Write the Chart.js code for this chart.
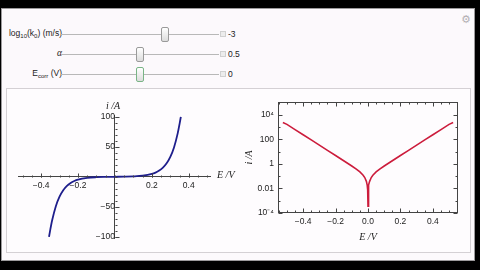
<!DOCTYPE html>
<html>
<head>
<meta charset="utf-8">
<script src="https://cdn.jsdelivr.net/npm/chart.js@4.4.0/dist/chart.umd.min.js"></script>
<style>
html, body { margin: 0; padding: 0; background: #000; width: 480px; height: 270px; overflow: hidden; font-family: "Liberation Sans", Arial, sans-serif; }
#panel { position: absolute; left: 1px; top: 8px; width: 472px; height: 251px; background: #fcf9fc; border: 1px solid #9c9a9c; }
#plots { position: absolute; left: 6px; top: 88px; width: 463px; height: 163px; background: #fefcfe; border: 1px solid #d4d0d4; }
.lbl { position: absolute; left: 0; width: 62px; text-align: right; font-size: 8.5px; color: #222; line-height: 10px; }
.lbl sub { font-size: 6px; vertical-align: -2px; line-height: 0; }
.val { position: absolute; left: 228px; font-size: 8.5px; color: #222; line-height: 10px; }
.plus { position: absolute; left: 220px; width: 4px; height: 4px; border: 1px solid #d0d0d0; background: #ececec; }
input[type=range] { -webkit-appearance: none; appearance: none; position: absolute; left: 61px; width: 158px; height: 17px; margin: 0; padding: 0; background: transparent; }
input[type=range]::-webkit-slider-runnable-track { height: 1px; background: #b8b8b8; }
input[type=range]::-webkit-slider-thumb { -webkit-appearance: none; box-sizing: border-box; width: 8px; height: 15px; margin-top: -7px; border: 1px solid #9a9a9a; border-radius: 2px; background: linear-gradient(#ffffff, #dcdcdc); }
#s3::-webkit-slider-thumb { border-color: #79b486; }
#gear { position: absolute; left: 461px; top: 13px; font-size: 11px; color: #b4b0b4; font-family: "DejaVu Sans"; }
.axt { position: absolute; font-family: "Liberation Serif", serif; font-style: italic; font-size: 10px; color: #222; line-height: 10px; white-space: nowrap; }
canvas { position: absolute; }
</style>
</head>
<body>
<div id="panel"></div>
<div id="gear">⚙</div>

<div class="lbl" style="top:28px">log<sub>10</sub>(k<sub>0</sub>) (m/s)</div>
<input id="s1" type="range" min="-9" max="0" step="0.1" value="-3" style="top:26px">
<div class="plus" style="top:31px"></div>
<div class="val" style="top:29px">-3</div>

<div class="lbl" style="top:48px"><span style="font-family:'Liberation Serif';font-style:italic;font-size:9.5px">α</span></div>
<input id="s2" type="range" min="0" max="1" step="0.01" value="0.5" style="top:46px">
<div class="plus" style="top:51px"></div>
<div class="val" style="top:49px">0.5</div>

<div class="lbl" style="top:68px">E<sub>corr</sub> (V)</div>
<input id="s3" type="range" min="-1" max="1" step="0.01" value="0" style="top:66px">
<div class="plus" style="top:71px"></div>
<div class="val" style="top:69px">0</div>

<div id="plots"></div>
<canvas id="linChart" width="225" height="155" style="left:8px;top:95px"></canvas>
<canvas id="logChart" width="232" height="158" style="left:240px;top:92px"></canvas>
<div class="axt" style="left:106px;top:101px">i /A</div>
<div class="axt" style="left:217px;top:170px">E /V</div>

<script>
// ===== data =====
const linE = [-0.357, -0.35, -0.34, -0.32, -0.3, -0.28, -0.26, -0.24, -0.22, -0.2, -0.15, -0.1, -0.05, 0,
              0.05, 0.1, 0.15, 0.2, 0.22, 0.24, 0.26, 0.28, 0.3, 0.32, 0.34, 0.35, 0.357];
const linI = [-100, -87.9, -72.4, -49.0, -33.2, -22.5, -15.2, -10.3, -7.0, -4.74, -1.79, -0.66, -0.22, 0,
              0.22, 0.66, 1.79, 4.74, 7.0, 10.3, 15.2, 22.5, 33.2, 49.0, 72.4, 87.9, 100];

const logE = [-0.525, -0.5, -0.45, -0.4, -0.35, -0.3, -0.25, -0.2, -0.15, -0.1, -0.07, -0.05, -0.03, -0.02, -0.01, -0.005, -0.002,
              0.0001, 0.002, 0.005, 0.01, 0.02, 0.03, 0.05, 0.07, 0.1, 0.15, 0.2, 0.25, 0.3, 0.35, 0.4, 0.45, 0.5, 0.525];
const logI = [2300, 1627, 614, 233, 87.9, 33.2, 12.5, 4.74, 1.79, 0.662, 0.353, 0.219, 0.119, 0.077, 0.0378, 0.0188, 0.0075,
              0.00035, 0.0075, 0.0188, 0.0378, 0.077, 0.119, 0.219, 0.353, 0.662, 1.79, 4.74, 12.5, 33.2, 87.9, 233, 614, 1627, 2300];

const linXTicks = [-0.4, -0.2, 0.2, 0.4];
const linYTicks = [-100, -50, 50, 100];
const logXTicks = [-0.4, -0.2, 0, 0.2, 0.4];
const logXLabels = ['\u22120.4', '\u22120.2', '0.0', '0.2', '0.4'];
const logYTicks = [1e-4, 1e-2, 1, 1e2, 1e4];
const logYLabels = ['10\u207B\u2074', '0.01', '1', '100', '10\u2074'];

const tickFont = { family: 'Liberation Sans', size: 8.5 };

function fmtLin(v) {
    return (v < 0 ? '\u2212' : '') + Math.abs(v);
}

function steps(from, to, step) {
    const out = [];
    for (let v = from; v <= to + 1e-9; v += step) out.push(+v.toFixed(6));
    return out;
}

// ===== tick marks in the Mathematica way =====
const mmaTicks = {
    id: 'mmaTicks',
    afterDatasetsDraw(chart, args, o) {
        if (!o || !o.mode) return;
        const ctx = chart.ctx, a = chart.chartArea;
        const xs = chart.scales.x, ys = chart.scales.y;
        ctx.save();
        ctx.strokeStyle = o.color;
        ctx.lineWidth = 1;
        const line = (x1, y1, x2, y2) => { ctx.beginPath(); ctx.moveTo(x1, y1); ctx.lineTo(x2, y2); ctx.stroke(); };

        if (o.mode === 'axes') {
            const y0 = Math.round(ys.getPixelForValue(0)) + 0.5;
            const x0 = Math.round(xs.getPixelForValue(0)) + 0.5;
            o.xMinor.forEach(v => { const p = Math.round(xs.getPixelForValue(v)) + 0.5; line(p, y0, p, y0 - 2); });
            o.xMajor.forEach(v => { const p = Math.round(xs.getPixelForValue(v)) + 0.5; line(p, y0, p, y0 - 4); });
            o.yMinor.forEach(v => { const p = Math.round(ys.getPixelForValue(v)) + 0.5; line(x0, p, x0 + 2, p); });
            o.yMajor.forEach(v => { const p = Math.round(ys.getPixelForValue(v)) + 0.5; line(x0, p, x0 + 4, p); });
        } else {
            const L = Math.round(a.left) + 0.5, R = Math.round(a.right) - 0.5;
            const T = Math.round(a.top) + 0.5, B = Math.round(a.bottom) - 0.5;
            ctx.strokeRect(L, T, R - L, B - T);
            o.xMinor.forEach(v => { const p = Math.round(xs.getPixelForValue(v)) + 0.5; line(p, B, p, B - 2); line(p, T, p, T + 2); });
            o.xMajor.forEach(v => { const p = Math.round(xs.getPixelForValue(v)) + 0.5; line(p, B, p, B - 4); line(p, T, p, T + 4); });
            o.yMinor.forEach(v => { const p = Math.round(ys.getPixelForValue(v)) + 0.5; line(L, p, L + 2, p); line(R, p, R - 2, p); });
            o.yMajor.forEach(v => { const p = Math.round(ys.getPixelForValue(v)) + 0.5; line(L, p, L + 4, p); line(R, p, R - 4, p); });
        }
        ctx.restore();
    }
};

// ===== linear plot, axes through the origin =====
new Chart(document.getElementById('linChart'), {
    type: 'scatter',
    data: {
        datasets: [{
            data: linE.map((e, k) => ({ x: e, y: linI[k] })),
            showLine: true,
            borderColor: '#1e1e8c',
            borderWidth: 1.8,
            pointRadius: 0,
            cubicInterpolationMode: 'monotone'
        }]
    },
    options: {
        responsive: false,
        animation: false,
        devicePixelRatio: 1,
        layout: { padding: { left: 10, right: 23, top: 20, bottom: 12 } },
        plugins: {
            legend: { display: false },
            tooltip: { enabled: false },
            mmaTicks: {
                mode: 'axes', color: '#444',
                xMajor: linXTicks, xMinor: steps(-0.5, 0.5, 0.05),
                yMajor: linYTicks, yMinor: steps(-100, 100, 10)
            }
        },
        scales: {
            x: {
                type: 'linear', min: -0.525, max: 0.515, position: { y: 0 },
                grid: { drawOnChartArea: false, drawTicks: false },
                border: { color: '#444', width: 1 },
                afterBuildTicks: s => { s.ticks = linXTicks.map(v => ({ value: v })); },
                ticks: { font: tickFont, color: '#222', padding: 4, maxRotation: 0, autoSkip: false, callback: fmtLin }
            },
            y: {
                type: 'linear', min: -102, max: 103, position: { x: 0 },
                grid: { drawOnChartArea: false, drawTicks: false },
                border: { color: '#444', width: 1 },
                afterBuildTicks: s => { s.ticks = linYTicks.map(v => ({ value: v })); },
                ticks: { font: tickFont, color: '#222', padding: 3, autoSkip: false, callback: fmtLin }
            }
        }
    },
    plugins: [mmaTicks]
});

// ===== log plot, framed =====
const logMinor = [1e-3, 1e-1, 10, 1e3, 1e5];

new Chart(document.getElementById('logChart'), {
    type: 'scatter',
    data: {
        datasets: [{
            data: logE.map((e, k) => ({ x: e, y: logI[k] })),
            showLine: true,
            borderColor: '#cc1c3c',
            borderWidth: 1.6,
            pointRadius: 0,
            tension: 0
        }]
    },
    options: {
        responsive: false,
        animation: false,
        devicePixelRatio: 1,
        layout: { padding: { left: 0, right: 14, top: 10, bottom: 0 } },
        plugins: {
            legend: { display: false },
            tooltip: { enabled: false },
            mmaTicks: {
                mode: 'frame', color: '#444',
                xMajor: logXTicks, xMinor: steps(-0.55, 0.55, 0.05),
                yMajor: logYTicks, yMinor: logMinor
            }
        },
        scales: {
            x: {
                type: 'linear', min: -0.555, max: 0.555, position: 'bottom',
                grid: { display: false, drawTicks: false },
                border: { display: false },
                afterBuildTicks: s => { s.ticks = logXTicks.map(v => ({ value: v })); },
                afterFit: s => { s.height = 37; },
                ticks: { font: tickFont, color: '#222', padding: 4, maxRotation: 0, autoSkip: false,
                         callback: (v) => logXLabels[logXTicks.indexOf(v)] },
                title: { display: true, text: 'E /V', color: '#222', padding: { top: 4, bottom: 7 },
                         font: { family: 'Liberation Serif', style: 'italic', size: 10 } }
            },
            y: {
                type: 'logarithmic', min: 1e-4, max: 1.07e5, position: 'left',
                grid: { display: false, drawTicks: false },
                border: { display: false },
                afterBuildTicks: s => { s.ticks = logYTicks.map(v => ({ value: v })); },
                afterFit: s => { s.width = 38; },
                ticks: { font: tickFont, color: '#222', padding: 4, autoSkip: false,
                         callback: (v) => logYLabels[logYTicks.indexOf(v)] },
                title: { display: true, text: 'i /A', color: '#222', padding: { top: 3, bottom: 2 },
                         font: { family: 'Liberation Serif', style: 'italic', size: 10 } }
            }
        }
    },
    plugins: [mmaTicks]
});
</script>
</body>
</html>
